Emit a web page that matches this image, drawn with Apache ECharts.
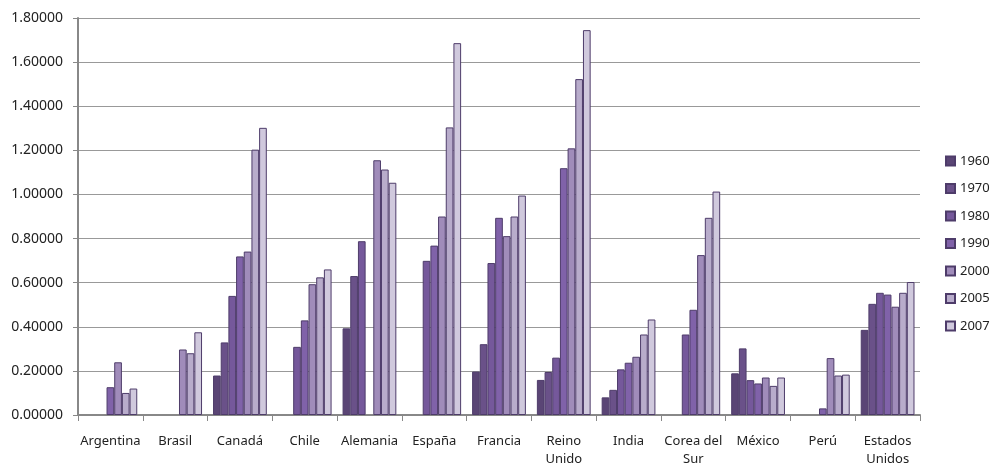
<!DOCTYPE html>
<html>
<head>
<meta charset="utf-8">
<script src="https://cdn.jsdelivr.net/npm/echarts@6/dist/echarts.min.js"></script>
<style>
  html, body { margin: 0; padding: 0; background: #fff; }
  #chart { width: 990px; height: 468px; }
</style>
</head>
<body>
<div id="chart"></div>
<script>
const categories = ['Argentina', 'Brasil', 'Canadá', 'Chile', 'Alemania', 'España', 'Francia',
    'Reino\nUnido', 'India', 'Corea del\nSur', 'México', 'Perú', 'Estados\nUnidos'];

const years = ['1960', '1970', '1980', '1990', '2000', '2005', '2007'];

const v1960 = [null, null, 0.179, null, 0.393, null, 0.197, 0.159, 0.080, null, 0.189, null, 0.386];
const v1970 = [null, null, 0.329, null, 0.630, null, 0.321, 0.195, 0.114, null, 0.302, null, 0.504];
const v1980 = [null, null, 0.540, 0.309, 0.788, 0.699, 0.689, 0.260, 0.207, 0.365, 0.158, null, 0.554];
const v1990 = [0.126, null, 0.719, 0.429, null, 0.768, 0.894, 1.119, 0.237, 0.477, 0.143, 0.030, 0.546];
const v2000 = [0.239, 0.297, 0.741, 0.593, 1.155, 0.900, 0.811, 1.209, 0.264, 0.725, 0.170, 0.258, 0.491];
const v2005 = [0.100, 0.280, 1.203, 0.624, 1.113, 1.304, 0.900, 1.523, 0.365, 0.894, 0.132, 0.179, 0.554];
const v2007 = [0.120, 0.375, 1.302, 0.660, 1.053, 1.686, 0.995, 1.745, 0.433, 1.013, 0.170, 0.183, 0.603];

const seriesValues = [v1960, v1970, v1980, v1990, v2000, v2005, v2007];
const colors = ['#5a4575', '#6a5189', '#75589b', '#8062a9', '#a08cba', '#b8accb', '#d0c9dd'];

const chart = echarts.init(document.getElementById('chart'), null, { renderer: 'canvas' });

const series = years.map((y, i) => ({
    name: y,
    type: 'bar',
    data: seriesValues[i],
    barGap: '0%',
    barCategoryGap: '17%',
    itemStyle: {
        color: colors[i],
        borderColor: '#4e3c6a',
        borderWidth: 1
    }
}));

const font = '"Noto Sans", "DejaVu Sans", sans-serif';

const option = {
    backgroundColor: '#fff',
    animation: false,
    grid: {
        left: 78,
        right: 70,
        top: 18,
        bottom: 50,
        containLabel: false
    },
    legend: {
        orient: 'vertical',
        left: 940,
        top: 148,
        itemWidth: 9,
        itemHeight: 9,
        itemGap: 11.5,
        icon: 'rect',
        textStyle: { fontFamily: font, fontSize: 13, lineHeight: 16, color: '#222' },
        data: years
    },
    xAxis: {
        type: 'category',
        data: categories,
        axisLine: { lineStyle: { color: '#888', width: 2 } },
        axisTick: { show: true, length: 6, lineStyle: { color: '#888', width: 1 } },
        axisLabel: {
            interval: 0,
            margin: 17,
            fontFamily: font,
            fontSize: 13,
            color: '#222',
            lineHeight: 18
        }
    },
    yAxis: {
        type: 'value',
        min: 0,
        max: 1.8,
        interval: 0.2,
        axisLine: { show: true, lineStyle: { color: '#888', width: 2 } },
        axisTick: { show: true, length: 5, lineStyle: { color: '#888' } },
        splitLine: { lineStyle: { color: '#999', width: 1 } },
        axisLabel: {
            fontFamily: font,
            fontSize: 14,
            color: '#222',
            margin: 15,
            formatter: v => v.toFixed(5)
        }
    },
    series
};

chart.setOption(option);
</script>
</body>
</html>
